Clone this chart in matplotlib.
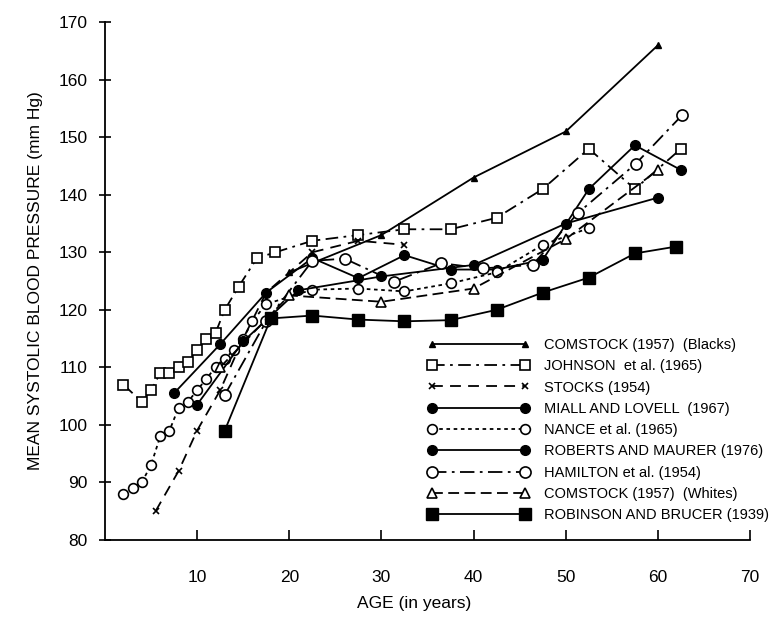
import matplotlib
matplotlib.use('Agg')
import matplotlib.pyplot as plt

plt.rcParams['font.family'] = ['Liberation Sans', 'DejaVu Sans']

# mean systolic pressure by age, one pair of lists per study
comstock_b_age = [20, 30, 40, 50, 60]
comstock_b = [126.5, 133, 143, 151, 166]

johnson_age = [2, 4, 5, 6, 7, 8, 9, 10, 11, 12, 13, 14.5, 16.5, 18.5,
               22.5, 27.5, 32.5, 37.5, 42.5, 47.5, 52.5, 57.5, 62.5]
johnson = [107, 104, 106, 109, 109, 110, 111, 113, 115, 116, 120, 124, 129, 130,
           132, 133, 134, 134, 136, 141, 148, 141, 148]

stocks_age = [5.5, 8, 10, 12.5, 15, 17.5, 22.5, 27.5, 32.5]
stocks = [85, 92, 99, 106, 115, 123, 130, 132, 131.3]

miall_age = [7.5, 12.5, 17.5, 22.5, 27.5, 32.5, 37.5, 42.5, 47.5, 52.5, 57.5, 62.5]
miall = [105.5, 114, 123, 129, 125.5, 129.5, 127, 127, 128.7, 141, 148.6, 144.3]

nance_age = [2, 3, 4, 5, 6, 7, 8, 9, 10, 11, 12, 13, 14, 15, 16, 17.5,
             22.5, 27.5, 32.5, 37.5, 42.5, 47.5, 52.5]
nance = [88, 89, 90, 93, 98, 99, 103, 104, 106, 108, 110, 111.5, 113, 115, 118, 121,
         123.5, 123.7, 123.2, 124.6, 126.5, 131.3, 134.2]

roberts_age = [10, 15, 21, 30, 40, 50, 60]
roberts = [103.5, 114.5, 123.4, 125.8, 127.8, 135, 139.5]

hamilton_age = [13, 17.5, 22.5, 26, 31.4, 36.5, 41, 46.4, 51.3, 57.6, 62.6]
hamilton = [105.2, 118, 128.5, 128.9, 124.9, 128.1, 127.2, 127.8, 136.8, 145.4, 153.8]

comstock_w_age = [12.5, 20, 30, 40, 50, 60]
comstock_w = [110, 122.5, 121.4, 123.7, 132.3, 144.3]

robinson_age = [13, 18, 22.5, 27.5, 32.5, 37.5, 42.5, 47.5, 52.5, 57.5, 62]
robinson = [99, 118.5, 119, 118.3, 118, 118.2, 120, 123, 125.6, 129.8, 131]

labels = ['COMSTOCK (1957)  (Blacks)', 'JOHNSON  et al. (1965)', 'STOCKS (1954)',
          'MIALL AND LOVELL  (1967)', 'NANCE et al. (1965)', 'ROBERTS AND MAURER (1976)',
          'HAMILTON et al. (1954)', 'COMSTOCK (1957)  (Whites)', 'ROBINSON AND BRUCER (1939)']

fig = plt.figure(figsize=(7.83, 6.17), dpi=100)
ax = fig.add_axes([0.134, 0.125, 0.824, 0.839])

lw = 1.3
k = 'black'
ax.plot(comstock_b_age, comstock_b, '-', color=k, lw=lw, marker='^', ms=5, mfc=k)
ax.plot(johnson_age, johnson, color=k, lw=lw, dashes=(7, 3, 1.5, 3), marker='s', ms=7.5,
        mfc='white', mew=1.2)
ax.plot(stocks_age, stocks, color=k, lw=lw, dashes=(6, 4), marker='x', ms=5, mew=1.2)
ax.plot(miall_age, miall, '-', color=k, lw=lw, marker='o', ms=7, mfc=k)
ax.plot(nance_age, nance, color=k, lw=lw, dashes=(2, 2), marker='o', ms=7,
        mfc='white', mew=1.2)
ax.plot(roberts_age, roberts, '-', color=k, lw=lw, marker='o', ms=7, mfc=k)
ax.plot(hamilton_age, hamilton, color=k, lw=lw, dashes=(8, 3, 1.5, 3), marker='o', ms=8,
        mfc='white', mew=1.2)
ax.plot(comstock_w_age, comstock_w, color=k, lw=lw, dashes=(6, 3), marker='^', ms=7,
        mfc='white', mew=1.2)
ax.plot(robinson_age, robinson, '-', color=k, lw=lw, marker='s', ms=8, mfc=k)

ax.set_xlim(0, 70)
ax.set_ylim(80, 170)
ax.set_xticks(range(10, 71, 10))
ax.set_yticks(range(80, 171, 10))
ax.spines['top'].set_visible(False)
ax.spines['right'].set_visible(False)
for s in ('left', 'bottom'):
    ax.spines[s].set_linewidth(1.3)
ax.tick_params(axis='x', direction='in', length=7, width=1.2, pad=22, labelsize=12.5)
ax.tick_params(axis='y', direction='inout', length=9, width=1.2, pad=8, labelsize=12.5)

ax.set_xlabel('AGE (in years)', fontsize=12.5)
ax.xaxis.set_label_coords(0.48, -0.108)
ax.set_ylabel('MEAN SYSTOLIC BLOOD PRESSURE (mm Hg)', fontsize=12.5, labelpad=11)

# legend: markers drawn at both ends of each sample line
handles = list(ax.get_lines())
fig.legend(handles, labels, loc='upper left', bbox_to_anchor=(0.537, 0.464),
           frameon=False, numpoints=2, handlelength=7.0, handletextpad=1.0,
           labelspacing=0.5, borderpad=0, fontsize=10.5)

fig.savefig('out.png', dpi=100)
